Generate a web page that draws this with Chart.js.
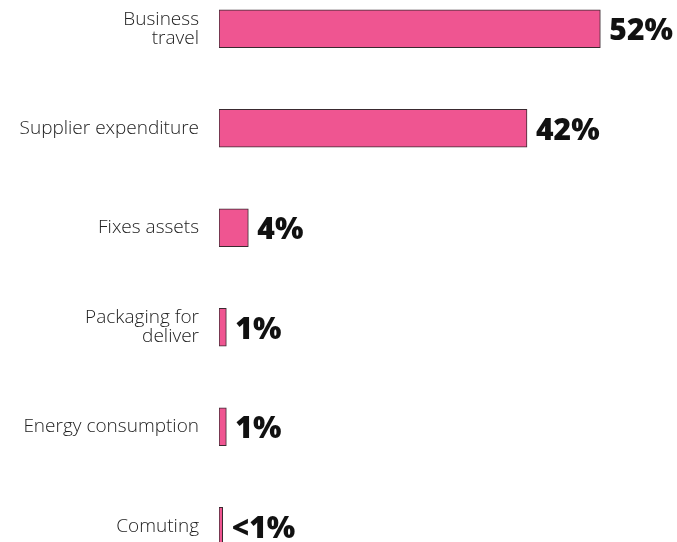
<!DOCTYPE html>
<html>
<head>
<meta charset="utf-8">
<script src="https://cdn.jsdelivr.net/npm/chart.js@4.4.1/dist/chart.umd.min.js"></script>
<style>
    html, body { margin: 0; padding: 0; background: #ffffff; }
    .wrap { position: relative; width: 677px; height: 542px; overflow: hidden; }
    #emissionChart { position: absolute; left: 0; top: -21px; }
</style>
</head>
<body>
<div class="wrap">
    <canvas id="emissionChart" width="677" height="597"></canvas>
</div>
<script>
// Emission sources and their share (%)
const categories = [
    ['Business', 'travel'],
    'Supplier expenditure',
    'Fixes assets',
    ['Packaging for', 'deliver'],
    'Energy consumption',
    'Comuting'
];
const shares = [52, 42, 4, 1, 1, 0.5];
const valueLabels = ['52%', '42%', '4%', '1%', '1%', '<1%'];

/* --- value labels at the end of each bar --- */
const barLabels = {
    id: 'barLabels',
    afterDatasetsDraw(chart) {
        const ctx = chart.ctx;
        const meta = chart.getDatasetMeta(0);
        ctx.save();
        ctx.fillStyle = '#111111';
        ctx.font = "800 30px 'Open Sans', sans-serif";
        ctx.textAlign = 'left';
        ctx.textBaseline = 'middle';
        meta.data.forEach((bar, i) => {
            ctx.fillText(valueLabels[i], bar.x + 9, bar.y + 3);
        });
        ctx.restore();
    }
};

const ctx = document.getElementById('emissionChart').getContext('2d');
new Chart(ctx, {
    type: 'bar',
    data: {
        labels: categories,
        datasets: [{
            data: shares,
            backgroundColor: '#ef5591',
            borderColor: '#3a2a30',
            borderWidth: 1,
            borderSkipped: false,
            barThickness: 38
        }]
    },
    options: {
        indexAxis: 'y',
        responsive: false,
        animation: false,
        layout: { padding: { left: 0, right: 18, top: 0, bottom: 0 } },
        plugins: {
            legend: { display: false },
            tooltip: { enabled: false }
        },
        scales: {
            x: {
                display: false,
                min: 0,
                max: 60
            },
            y: {
                grid: { display: false, drawTicks: false },
                border: { display: false },
                afterFit(scale) {
                    // fixed label column, no extra top/bottom room for the ticks
                    scale.width = 219;
                    scale.paddingTop = 0;
                    scale.paddingBottom = 0;
                },
                ticks: {
                    padding: 20,
                    color: '#222222',
                    font: { family: "'Open Sans', sans-serif", size: 19, weight: 300, lineHeight: 1.0 }
                }
            }
        }
    },
    plugins: [barLabels]
});
</script>
</body>
</html>
